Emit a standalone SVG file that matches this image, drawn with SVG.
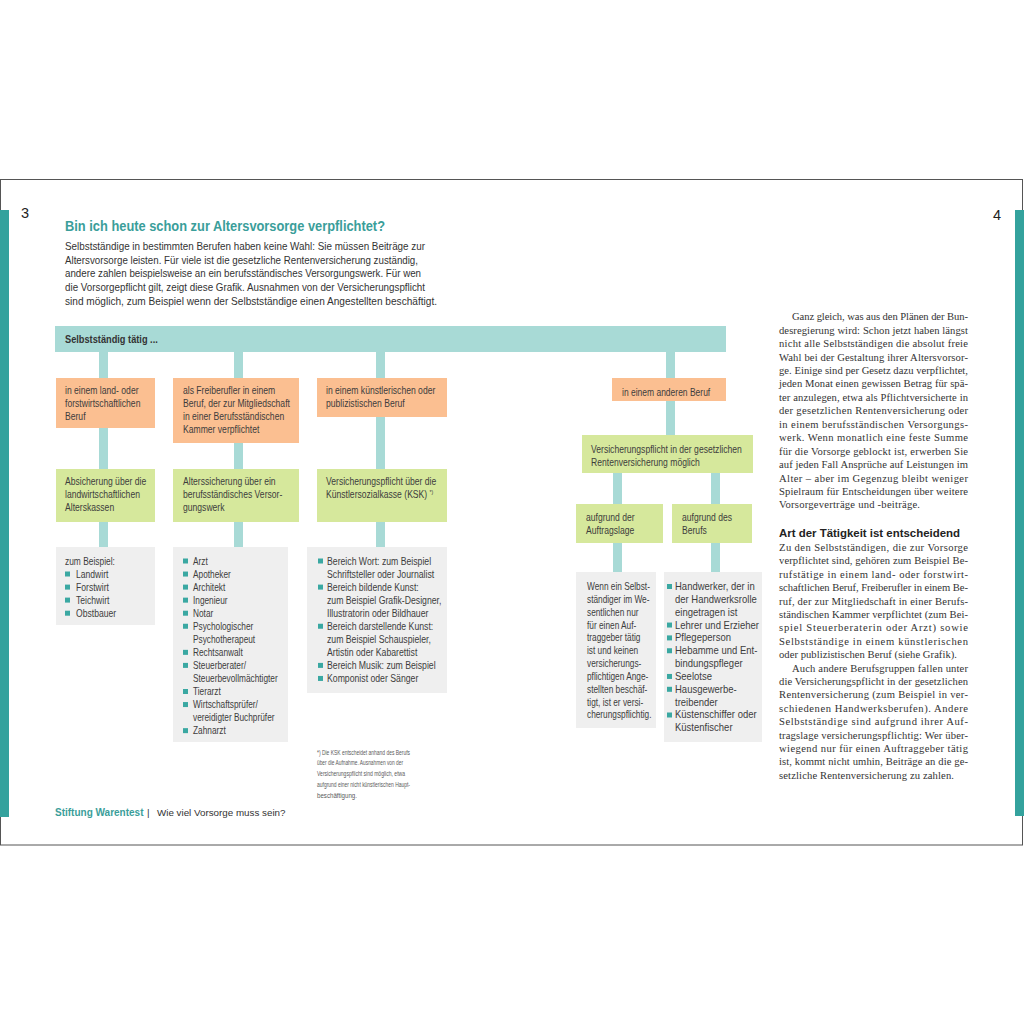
<svg xmlns="http://www.w3.org/2000/svg" width="1024" height="1024" viewBox="0 0 1024 1024">
<style>
.pg{fill:none;stroke:#555;stroke-width:1}
.side{fill:#34a29d}
.con{fill:#a8dad6}
.or{fill:#fbbf91}
.gr{fill:#d6e89c}
.gy{fill:#efefef}
.bl{fill:#3aa8a2}
.bt{font-family:'Liberation Sans',Arial,sans-serif;font-size:10px;fill:#3d3d3d}
.bold{font-weight:bold}
.ttl{font-family:'Liberation Sans',Arial,sans-serif;font-size:15px;font-weight:bold;fill:#3a9e9a}
.body{font-family:'Liberation Sans',Arial,sans-serif;font-size:11.5px;fill:#333}
.ser{font-family:'Liberation Serif','Times New Roman',serif;font-size:10.6px;fill:#333}
.hd{font-family:'Liberation Sans',Arial,sans-serif;font-size:11.4px;font-weight:bold;fill:#222}
.fn{font-family:'Liberation Sans',Arial,sans-serif;font-size:7.8px;fill:#5a5a5a}
.num{font-family:'Liberation Sans',Arial,sans-serif;font-size:14.5px;fill:#222}
.ft{font-family:'Liberation Sans',Arial,sans-serif;font-size:9.8px;fill:#333}
</style>
<rect x="0" y="0" width="1024" height="1024" fill="#fff"/>
<rect class="pg" x="0.5" y="179.5" width="1022" height="665.5"/>
<rect class="side" x="0" y="210" width="9" height="607"/>
<rect class="side" x="1015" y="210" width="9" height="606"/>
<text class="num" x="21" y="218">3</text>
<text class="num" x="993" y="219.5">4</text>

<g id="intro">
<text class="ttl" x="65" y="231" textLength="320" lengthAdjust="spacingAndGlyphs">Bin ich heute schon zur Altersvorsorge verpflichtet?</text>
<text class="body" x="65" y="250" textLength="360" lengthAdjust="spacingAndGlyphs">Selbstständige in bestimmten Berufen haben keine Wahl: Sie müssen Beiträge zur</text>
<text class="body" x="65" y="263.6" textLength="353" lengthAdjust="spacingAndGlyphs">Altersvorsorge leisten. Für viele ist die gesetzliche Rentenversicherung zuständig,</text>
<text class="body" x="65" y="277.3" textLength="356" lengthAdjust="spacingAndGlyphs">andere zahlen beispielsweise an ein berufsständisches Versorgungswerk. Für wen</text>
<text class="body" x="65" y="291" textLength="360" lengthAdjust="spacingAndGlyphs">die Vorsorgepflicht gilt, zeigt diese Grafik. Ausnahmen von der Versicherungspflicht</text>
<text class="body" x="65" y="304.5" textLength="372" lengthAdjust="spacingAndGlyphs">sind möglich, zum Beispiel wenn der Selbstständige einen Angestellten beschäftigt.</text>
</g>

<g id="connectors">
<rect class="con" x="99" y="350" width="9" height="198"/>
<rect class="con" x="234" y="350" width="9" height="198"/>
<rect class="con" x="376" y="350" width="9" height="198"/>
<rect class="con" x="666" y="350" width="9" height="86"/>
<rect class="con" x="613" y="472" width="9" height="101"/>
<rect class="con" x="711" y="472" width="9" height="101"/>
</g>

<g id="root">
<rect class="con" x="55" y="326" width="671" height="26"/>
<text class="bt bold" transform="translate(65,343) scale(0.88,1)" style="font-size:10.5px;fill:#333">Selbstständig tätig ...</text>
</g>

<g id="o1">
<rect class="or" x="56" y="378" width="99" height="50"/>
<text class="bt" transform="translate(65,393.5) scale(0.86,1)"><tspan x="0" y="0">in einem land- oder</tspan><tspan x="0" y="13.3">forstwirtschaftlichen</tspan><tspan x="0" y="26.6">Beruf</tspan></text>
</g>
<g id="o2">
<rect class="or" x="173" y="378" width="126" height="65"/>
<text class="bt" transform="translate(183,393.5) scale(0.86,1)"><tspan x="0" y="0">als Freiberufler in einem</tspan><tspan x="0" y="13.3">Beruf, der zur Mitgliedschaft</tspan><tspan x="0" y="26.6">in einer Berufsständischen</tspan><tspan x="0" y="39.9">Kammer verpflichtet</tspan></text>
</g>
<g id="o3">
<rect class="or" x="317" y="378" width="130" height="39"/>
<text class="bt" transform="translate(326,393.5) scale(0.86,1)"><tspan x="0" y="0">in einem künstlerischen oder</tspan><tspan x="0" y="13.3">publizistischen Beruf</tspan></text>
</g>
<g id="o4">
<rect class="or" x="612" y="378" width="114" height="23"/>
<text class="bt" transform="translate(622,395.5) scale(0.85,1)">in einem anderen Beruf</text>
</g>

<g id="g1">
<rect class="gr" x="56" y="469" width="99" height="53"/>
<text class="bt" transform="translate(65,484.5) scale(0.86,1)"><tspan x="0" y="0">Absicherung über die</tspan><tspan x="0" y="13.3">landwirtschaftlichen</tspan><tspan x="0" y="26.6">Alterskassen</tspan></text>
</g>
<g id="g2">
<rect class="gr" x="173" y="469" width="126" height="53"/>
<text class="bt" transform="translate(183,484.5) scale(0.86,1)"><tspan x="0" y="0">Alterssicherung über ein</tspan><tspan x="0" y="13.3">berufsständisches Versor-</tspan><tspan x="0" y="26.6">gungswerk</tspan></text>
</g>
<g id="g3">
<rect class="gr" x="317" y="469" width="130" height="53"/>
<text class="bt" transform="translate(326,484.5) scale(0.86,1)"><tspan x="0" y="0">Versicherungspflicht über die</tspan><tspan x="0" y="13.3">Künstlersozialkasse (KSK) </tspan><tspan dy="-4" style="font-size:6px">*)</tspan></text>
</g>
<g id="g4">
<rect class="gr" x="582" y="435" width="171" height="38"/>
<text class="bt" transform="translate(591,453) scale(0.86,1)"><tspan x="0" y="0">Versicherungspflicht in der gesetzlichen</tspan><tspan x="0" y="13.3">Rentenversicherung möglich</tspan></text>
</g>
<g id="g5">
<rect class="gr" x="576" y="504" width="87" height="39"/>
<text class="bt" transform="translate(586,520.5) scale(0.86,1)"><tspan x="0" y="0">aufgrund der</tspan><tspan x="0" y="13.3">Auftragslage</tspan></text>
</g>
<g id="g6">
<rect class="gr" x="672" y="504" width="80" height="39"/>
<text class="bt" transform="translate(682,520.5) scale(0.86,1)"><tspan x="0" y="0">aufgrund des</tspan><tspan x="0" y="13.3">Berufs</tspan></text>
</g>

<g id="r1">
<rect class="gy" x="56" y="547" width="99" height="78"/>
<text class="bt" transform="translate(65,564.5) scale(0.84,1)">zum Beispiel:</text>
<rect class="bl" x="65" y="571.5" width="5" height="5"/>
<rect class="bl" x="65" y="584.6" width="5" height="5"/>
<rect class="bl" x="65" y="597.6" width="5" height="5"/>
<rect class="bl" x="65" y="610.7" width="5" height="5"/>
<text class="bt" transform="translate(76,577.55) scale(0.86,1)"><tspan x="0" y="0">Landwirt</tspan><tspan x="0" y="13.05">Forstwirt</tspan><tspan x="0" y="26.1">Teichwirt</tspan><tspan x="0" y="39.15">Obstbauer</tspan></text>
</g>

<g id="r2">
<rect class="gy" x="173" y="547" width="115" height="195"/>
<rect class="bl" x="183" y="558.5" width="5" height="5"/>
<rect class="bl" x="183" y="571.55" width="5" height="5"/>
<rect class="bl" x="183" y="584.6" width="5" height="5"/>
<rect class="bl" x="183" y="597.65" width="5" height="5"/>
<rect class="bl" x="183" y="610.7" width="5" height="5"/>
<rect class="bl" x="183" y="623.75" width="5" height="5"/>
<rect class="bl" x="183" y="649.85" width="5" height="5"/>
<rect class="bl" x="183" y="662.9" width="5" height="5"/>
<rect class="bl" x="183" y="689" width="5" height="5"/>
<rect class="bl" x="183" y="702.05" width="5" height="5"/>
<rect class="bl" x="183" y="728.15" width="5" height="5"/>
<text class="bt" transform="translate(193,564.5) scale(0.83,1)"><tspan x="0" y="0">Arzt</tspan><tspan x="0" y="13.05">Apotheker</tspan><tspan x="0" y="26.1">Architekt</tspan><tspan x="0" y="39.15">Ingenieur</tspan><tspan x="0" y="52.2">Notar</tspan><tspan x="0" y="65.25">Psychologischer</tspan><tspan x="0" y="78.3">Psychotherapeut</tspan><tspan x="0" y="91.35">Rechtsanwalt</tspan><tspan x="0" y="104.4">Steuerberater/</tspan><tspan x="0" y="117.45">Steuerbevollmächtigter</tspan><tspan x="0" y="130.5">Tierarzt</tspan><tspan x="0" y="143.55">Wirtschaftsprüfer/</tspan><tspan x="0" y="156.6">vereidigter Buchprüfer</tspan><tspan x="0" y="169.65">Zahnarzt</tspan></text>
</g>

<g id="r3">
<rect class="gy" x="307" y="547" width="140" height="146"/>
<rect class="bl" x="318" y="558.5" width="5" height="5"/>
<rect class="bl" x="318" y="584.6" width="5" height="5"/>
<rect class="bl" x="318" y="623.75" width="5" height="5"/>
<rect class="bl" x="318" y="662.9" width="5" height="5"/>
<rect class="bl" x="318" y="675.95" width="5" height="5"/>
<text class="bt" transform="translate(327,564.5) scale(0.87,1)"><tspan x="0" y="0">Bereich Wort: zum Beispiel</tspan><tspan x="0" y="13.05">Schriftsteller oder Journalist</tspan><tspan x="0" y="26.1">Bereich bildende Kunst:</tspan><tspan x="0" y="39.15">zum Beispiel Grafik-Designer,</tspan><tspan x="0" y="52.2">Illustratorin oder Bildhauer</tspan><tspan x="0" y="65.25">Bereich darstellende Kunst:</tspan><tspan x="0" y="78.3">zum Beispiel Schauspieler,</tspan><tspan x="0" y="91.35">Artistin oder Kabarettist</tspan><tspan x="0" y="104.4">Bereich Musik: zum Beispiel</tspan><tspan x="0" y="117.45">Komponist oder Sänger</tspan></text>
</g>

<g id="r4">
<rect class="gy" x="576" y="572" width="80" height="156"/>
<text class="bt" transform="translate(587,590) scale(0.83,1)"><tspan x="0" y="0">Wenn ein Selbst-</tspan><tspan x="0" y="12.85">ständiger im We-</tspan><tspan x="0" y="25.7">sentlichen nur</tspan><tspan x="0" y="38.55">für einen Auf-</tspan><tspan x="0" y="51.4">traggeber tätig</tspan><tspan x="0" y="64.25">ist und keinen</tspan><tspan x="0" y="77.1">versicherungs-</tspan><tspan x="0" y="89.95">pflichtigen Ange-</tspan><tspan x="0" y="102.8">stellten beschäf-</tspan><tspan x="0" y="115.65">tigt, ist er versi-</tspan><tspan x="0" y="128.5">cherungspflichtig.</tspan></text>
</g>

<g id="r5">
<rect class="gy" x="664" y="572" width="98" height="170"/>
<rect class="bl" x="667" y="584" width="5" height="5"/>
<rect class="bl" x="667" y="622.55" width="5" height="5"/>
<rect class="bl" x="667" y="635.4" width="5" height="5"/>
<rect class="bl" x="667" y="648.25" width="5" height="5"/>
<rect class="bl" x="667" y="673.95" width="5" height="5"/>
<rect class="bl" x="667" y="686.8" width="5" height="5"/>
<rect class="bl" x="667" y="712.5" width="5" height="5"/>
<text class="bt" transform="translate(675,590) scale(0.95,1)"><tspan x="0" y="0">Handwerker, der in</tspan><tspan x="0" y="12.85">der Handwerksrolle</tspan><tspan x="0" y="25.7">eingetragen ist</tspan><tspan x="0" y="38.55">Lehrer und Erzieher</tspan><tspan x="0" y="51.4">Pflegeperson</tspan><tspan x="0" y="64.25">Hebamme und Ent-</tspan><tspan x="0" y="77.1">bindungspfleger</tspan><tspan x="0" y="89.95">Seelotse</tspan><tspan x="0" y="102.8">Hausgewerbe-</tspan><tspan x="0" y="115.65">treibender</tspan><tspan x="0" y="128.5">Küstenschiffer oder</tspan><tspan x="0" y="141.35">Küstenfischer</tspan></text>
</g>

<g id="footnote">
<text class="fn" x="317" y="754.5" textLength="93" lengthAdjust="spacingAndGlyphs">*) Die KSK entscheidet anhand des Berufs</text>
<text class="fn" x="317" y="765.3" textLength="86" lengthAdjust="spacingAndGlyphs">über die Aufnahme. Ausnahmen von der</text>
<text class="fn" x="317" y="776" textLength="88" lengthAdjust="spacingAndGlyphs">Versicherungspflicht sind möglich, etwa</text>
<text class="fn" x="317" y="786.8" textLength="93" lengthAdjust="spacingAndGlyphs">aufgrund einer nicht künstlerischen Haupt-</text>
<text class="fn" x="317" y="797.5" textLength="40" lengthAdjust="spacingAndGlyphs">beschäftigung.</text>
</g>

<g id="column">
<text class="ser" x="792" y="320" textLength="176" lengthAdjust="spacing">Ganz gleich, was aus den Plänen der Bun-</text>
<text class="ser" x="779" y="333.5" textLength="189" lengthAdjust="spacing">desregierung wird: Schon jetzt haben längst</text>
<text class="ser" x="779" y="347" textLength="189" lengthAdjust="spacing">nicht alle Selbstständigen die absolut freie</text>
<text class="ser" x="779" y="360.5" textLength="189" lengthAdjust="spacing">Wahl bei der Gestaltung ihrer Altersvorsor-</text>
<text class="ser" x="779" y="374" textLength="189" lengthAdjust="spacing">ge. Einige sind per Gesetz dazu verpflichtet,</text>
<text class="ser" x="779" y="387.4" textLength="189" lengthAdjust="spacing">jeden Monat einen gewissen Betrag für spä-</text>
<text class="ser" x="779" y="400.8" textLength="189" lengthAdjust="spacing">ter anzulegen, etwa als Pflichtversicherte in</text>
<text class="ser" x="779" y="414.3" textLength="189" lengthAdjust="spacing">der gesetzlichen Rentenversicherung oder</text>
<text class="ser" x="779" y="427.7" textLength="189" lengthAdjust="spacing">in einem berufsständischen Versorgungs-</text>
<text class="ser" x="779" y="441.2" textLength="189" lengthAdjust="spacing">werk. Wenn monatlich eine feste Summe</text>
<text class="ser" x="779" y="454.6" textLength="189" lengthAdjust="spacing">für die Vorsorge geblockt ist, erwerben Sie</text>
<text class="ser" x="779" y="468" textLength="189" lengthAdjust="spacing">auf jeden Fall Ansprüche auf Leistungen im</text>
<text class="ser" x="779" y="481.5" textLength="189" lengthAdjust="spacing">Alter – aber im Gegenzug bleibt weniger</text>
<text class="ser" x="779" y="494.9" textLength="189" lengthAdjust="spacing">Spielraum für Entscheidungen über weitere</text>
<text class="ser" x="779" y="508.4" textLength="141" lengthAdjust="spacing">Vorsorgeverträge und -beiträge.</text>

<text class="hd" x="779" y="537" textLength="181" lengthAdjust="spacingAndGlyphs">Art der Tätigkeit ist entscheidend</text>

<text class="ser" x="779" y="551" textLength="189" lengthAdjust="spacing">Zu den Selbstständigen, die zur Vorsorge</text>
<text class="ser" x="779" y="564.4" textLength="189" lengthAdjust="spacing">verpflichtet sind, gehören zum Beispiel Be-</text>
<text class="ser" x="779" y="577.8" textLength="189" lengthAdjust="spacing">rufstätige in einem land- oder forstwirt-</text>
<text class="ser" x="779" y="591.2" textLength="189" lengthAdjust="spacing">schaftlichen Beruf, Freiberufler in einem Be-</text>
<text class="ser" x="779" y="604.6" textLength="189" lengthAdjust="spacing">ruf, der zur Mitgliedschaft in einer Berufs-</text>
<text class="ser" x="779" y="618" textLength="189" lengthAdjust="spacing">ständischen Kammer verpflichtet (zum Bei-</text>
<text class="ser" x="779" y="631.4" textLength="189" lengthAdjust="spacing">spiel Steuerberaterin oder Arzt) sowie</text>
<text class="ser" x="779" y="644.8" textLength="189" lengthAdjust="spacing">Selbstständige in einem künstlerischen</text>
<text class="ser" x="779" y="658.2" textLength="178" lengthAdjust="spacing">oder publizistischen Beruf (siehe Grafik).</text>

<text class="ser" x="792" y="671.6" textLength="176" lengthAdjust="spacing">Auch andere Berufsgruppen fallen unter</text>
<text class="ser" x="779" y="685" textLength="189" lengthAdjust="spacing">die Versicherungspflicht in der gesetzlichen</text>
<text class="ser" x="779" y="698.4" textLength="189" lengthAdjust="spacing">Rentenversicherung (zum Beispiel in ver-</text>
<text class="ser" x="779" y="711.8" textLength="189" lengthAdjust="spacing">schiedenen Handwerksberufen). Andere</text>
<text class="ser" x="779" y="725.2" textLength="189" lengthAdjust="spacing">Selbstständige sind aufgrund ihrer Auf-</text>
<text class="ser" x="779" y="738.6" textLength="189" lengthAdjust="spacing">tragslage versicherungspflichtig: Wer über-</text>
<text class="ser" x="779" y="752" textLength="189" lengthAdjust="spacing">wiegend nur für einen Auftraggeber tätig</text>
<text class="ser" x="779" y="765.4" textLength="189" lengthAdjust="spacing">ist, kommt nicht umhin, Beiträge an die ge-</text>
<text class="ser" x="779" y="779" textLength="175" lengthAdjust="spacing">setzliche Rentenversicherung zu zahlen.</text>
</g>

<g id="footer">
<text class="ft" x="55" y="816" style="font-weight:bold;fill:#3a9e9a;font-size:10px">Stiftung Warentest</text>
<text class="ft" x="147" y="816">|</text>
<text class="ft" x="157" y="816">Wie viel Vorsorge muss sein?</text>
</g>
</svg>
